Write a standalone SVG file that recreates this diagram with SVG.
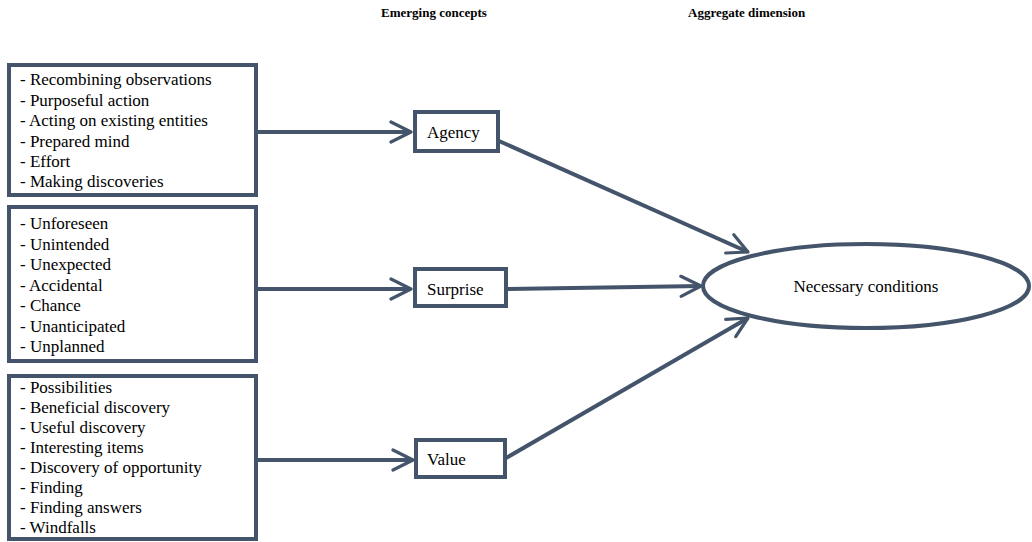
<svg xmlns="http://www.w3.org/2000/svg" width="1032" height="542" viewBox="0 0 1032 542">
<defs>
<marker id="arr" viewBox="0 0 12 12" refX="11" refY="6" markerWidth="6" markerHeight="6" markerUnits="strokeWidth" orient="auto">
<path d="M1,1 L11,6 L1,11" fill="none" stroke="#44546A" stroke-width="1.6" stroke-linecap="round" stroke-linejoin="round"/>
</marker>
</defs>
<style>
.box{fill:#fff;stroke:#44546A;stroke-width:4}
.t{font-family:"Liberation Serif","Times New Roman",serif;font-size:17px;fill:#000}
.h{font-family:"Liberation Serif","Times New Roman",serif;font-size:13px;font-weight:bold;fill:#000}
.c{fill:none;stroke:#44546A;stroke-width:4;marker-end:url(#arr)}
</style>
<rect width="1032" height="542" fill="#fff"/>
<text class="h" x="381" y="17">Emerging concepts</text>
<text class="h" x="688" y="17">Aggregate dimension</text>
<g id="connectors">
<line class="c" x1="257" y1="132" x2="411" y2="132"/>
<line class="c" x1="257" y1="289" x2="411" y2="289"/>
<line class="c" x1="257" y1="460" x2="413" y2="460"/>
<line class="c" x1="499" y1="141" x2="748" y2="252"/>
<line class="c" x1="507" y1="289" x2="701" y2="286"/>
<line class="c" x1="506" y1="458" x2="748" y2="318"/>
</g>
<g id="box1">
<rect class="box" x="9" y="65" width="247" height="130"/>
<text class="t" x="20" y="85">- Recombining observations</text>
<text class="t" x="20" y="105.5">- Purposeful action</text>
<text class="t" x="20" y="126">- Acting on existing entities</text>
<text class="t" x="20" y="146.5">- Prepared mind</text>
<text class="t" x="20" y="167">- Effort</text>
<text class="t" x="20" y="187">- Making discoveries</text>
</g>
<g id="box2">
<rect class="box" x="9" y="207" width="247" height="154"/>
<text class="t" x="20" y="229">- Unforeseen</text>
<text class="t" x="20" y="249.5">- Unintended</text>
<text class="t" x="20" y="270">- Unexpected</text>
<text class="t" x="20" y="290.5">- Accidental</text>
<text class="t" x="20" y="311">- Chance</text>
<text class="t" x="20" y="331.5">- Unanticipated</text>
<text class="t" x="20" y="352">- Unplanned</text>
</g>
<g id="box3">
<rect class="box" x="9" y="376" width="247" height="163"/>
<text class="t" x="20" y="393">- Possibilities</text>
<text class="t" x="20" y="413">- Beneficial discovery</text>
<text class="t" x="20" y="433">- Useful discovery</text>
<text class="t" x="20" y="453">- Interesting items</text>
<text class="t" x="20" y="473">- Discovery of opportunity</text>
<text class="t" x="20" y="493">- Finding</text>
<text class="t" x="20" y="513">- Finding answers</text>
<text class="t" x="20" y="533">- Windfalls</text>
</g>
<g id="agency">
<rect class="box" x="415" y="112" width="83" height="39"/>
<text class="t" x="427" y="138">Agency</text>
</g>
<g id="surprise">
<rect class="box" x="415" y="269" width="91" height="37"/>
<text class="t" x="427" y="295">Surprise</text>
</g>
<g id="value">
<rect class="box" x="416" y="440" width="89" height="37"/>
<text class="t" x="427" y="465">Value</text>
</g>
<g id="necessary">
<ellipse class="box" cx="866" cy="286" rx="163" ry="42"/>
<text class="t" x="866" y="292" text-anchor="middle">Necessary conditions</text>
</g>
</svg>
